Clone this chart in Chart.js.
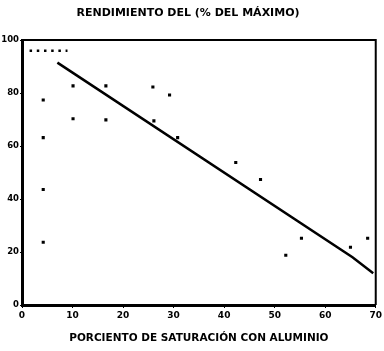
<!DOCTYPE html>
<html>
<head>
<meta charset="utf-8">
<script src="https://cdn.jsdelivr.net/npm/chart.js@4/dist/chart.umd.min.js"></script>
<style>
  html, body { margin: 0; padding: 0; background: #fff; }
  #wrap { width: 384px; height: 351px; }
</style>
</head>
<body>
<div id="wrap"><canvas id="myChart" width="384" height="351"></canvas></div>
<script>
// Datos (x = % saturacion con aluminio, y = rendimiento %)
const xTicks = [0, 10, 20, 30, 40, 50, 60, 70];
const yTicks = [0, 20, 40, 60, 80, 100];

const obsX = [10.1, 16.6, 10.1, 16.6, 25.9, 29.2, 26.1, 30.8, 42.3, 47.2, 55.3, 52.2, 65.0, 68.4, 4.2, 4.2, 4.2, 4.2];
const obsY = [82.7, 82.7, 70.3, 69.9, 82.3, 79.3, 69.5, 63.2, 53.8, 47.4, 25.2, 18.8, 21.8, 25.2, 77.4, 63.2, 43.6, 23.7];

const plateauX = [1.5, 9.0];
const plateauY = [96, 96];

const fitX = [7.0, 65.4, 69.5];
const fitY = [91.5, 18.0, 12.0];

const toPoints = (xs, ys) => xs.map((x, i) => ({ x: x, y: ys[i] }));

// marco superior y derecho
const framePlugin = {
    id: 'frame',
    afterDraw(chart) {
        const { ctx, chartArea } = chart;
        ctx.save();
        ctx.strokeStyle = '#000';
        ctx.lineWidth = 2;
        ctx.beginPath();
        ctx.moveTo(chartArea.left, chartArea.top);
        ctx.lineTo(chartArea.right, chartArea.top);
        ctx.lineTo(chartArea.right, chartArea.bottom);
        ctx.stroke();
        ctx.restore();
    }
};

const ctx = document.getElementById('myChart').getContext('2d');
new Chart(ctx, {
    type: 'scatter',
    data: {
        datasets: [
            {
                label: 'Observado',
                data: toPoints(obsX, obsY),
                pointStyle: 'rect',
                pointRadius: 2.2,
                backgroundColor: '#000',
                borderColor: '#000',
                borderWidth: 0
            },
            {
                label: 'Meseta',
                type: 'line',
                data: toPoints(plateauX, plateauY),
                borderColor: '#000',
                borderWidth: 2.5,
                borderDash: [2.5, 4.7],
                pointRadius: 0,
                fill: false
            },
            {
                label: 'Ajuste',
                type: 'line',
                data: toPoints(fitX, fitY),
                borderColor: '#000',
                borderWidth: 2.5,
                pointRadius: 0,
                tension: 0,
                fill: false
            }
        ]
    },
    options: {
        responsive: false,
        animation: false,
        layout: { padding: { left: 0, right: 8, top: 0, bottom: 0 } },
        plugins: {
            legend: { display: false },
            tooltip: { enabled: false },
            title: {
                display: true,
                text: 'RENDIMIENTO DEL (% DEL MÁXIMO)',
                color: '#000',
                font: { family: 'DejaVu Sans', size: 11, weight: 'bold', lineHeight: 1.1 },
                padding: { top: 7, bottom: 21 }
            }
        },
        scales: {
            x: {
                type: 'linear',
                min: 0,
                max: 70,
                afterFit: function(scale) { scale.height = 46; },
                afterBuildTicks: function(scale) { scale.ticks = xTicks.map(v => ({ value: v })); },
                border: { display: true, color: '#000', width: 3 },
                grid: { display: true, drawOnChartArea: false, color: '#000', tickLength: 3 },
                ticks: {
                    color: '#000',
                    padding: 2,
                    maxRotation: 0,
                    font: { family: 'DejaVu Sans', size: 9, weight: 'bold' }
                },
                title: {
                    display: true,
                    text: 'PORCIENTO DE SATURACIÓN CON ALUMINIO',
                    color: '#000',
                    font: { family: 'DejaVu Sans', size: 10.5, weight: 'bold' },
                    padding: { top: 4, bottom: 6 }
                }
            },
            y: {
                type: 'linear',
                min: 0,
                max: 100,
                afterFit: function(scale) { scale.width = 22; },
                afterBuildTicks: function(scale) { scale.ticks = yTicks.map(v => ({ value: v })); },
                border: { display: true, color: '#000', width: 3 },
                grid: { display: true, drawOnChartArea: false, color: '#000', tickLength: 2 },
                ticks: {
                    color: '#000',
                    padding: 1,
                    font: { family: 'DejaVu Sans', size: 8.5, weight: 'bold' }
                }
            }
        }
    },
    plugins: [framePlugin]
});
</script>
</body>
</html>
